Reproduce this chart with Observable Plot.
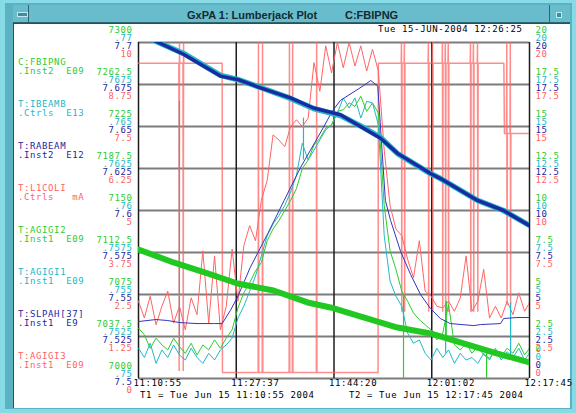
<!DOCTYPE html>
<html><head><meta charset="utf-8">
<script src="https://cdn.jsdelivr.net/npm/d3@7"></script>
<script src="https://cdn.jsdelivr.net/npm/@observablehq/plot@0.6"></script>
<style>
html,body{margin:0;padding:0;background:#86dbe7;}
#win{position:relative;width:576px;height:413px;overflow:hidden;background:#86dbe7;font-family:"DejaVu Sans Mono",monospace;}
.abs{position:absolute;white-space:pre;}
#frame{left:5px;top:3px;width:567px;height:406px;background:#5ab2c2;}
#titlebar{left:13px;top:5px;width:557px;height:17px;background:#68bccb;border-bottom:1px solid #2d6670;}
#btnL{left:17px;top:12px;width:9px;height:3px;background:#3d8d9b;border:1px solid #bfeaf0;}
#divL{left:28px;top:5px;width:1px;height:17px;background:#2d6670;}
#divR{left:549px;top:5px;width:1px;height:17px;background:#2d6670;}
#btnR{left:556px;top:12px;width:4px;height:4px;background:#3d8d9b;border:1px solid #bfeaf0;}
#panel{left:13px;top:23px;width:557px;height:385px;background:#fff;border-left:1px solid #24545c;border-top:1px solid #24545c;box-sizing:border-box;}
.title{font-family:"Liberation Sans",Arial,sans-serif;font-weight:bold;font-size:11px;color:#142a30;top:9px;line-height:12px;}
.t{font-size:9px;line-height:8.5px;letter-spacing:0.6px;}
svg{position:absolute;left:0;top:0;}
</style></head>
<body>
<div id="win">
  <div class="abs" id="frame"></div>
  <div class="abs" id="titlebar"></div>
  <div class="abs" id="btnL"></div>
  <div class="abs" id="divL"></div>
  <div class="abs" id="divR"></div>
  <div class="abs" id="btnR"></div>
  <div class="abs" id="panel"></div>
  <div class="abs title" style="left:187px">GxPA 1: Lumberjack Plot</div>
  <div class="abs title" style="left:345px">C:FBIPNG</div>
  <div class="abs t" id="date" style="left:378px;top:25px;color:#000"></div>
  <div id="legend"></div>
  <div class="abs t" id="t1" style="left:140px;top:391px;color:#000"></div>
  <div class="abs t" id="t2" style="left:349px;top:391px;color:#000"></div>
</div>
<script>
const GREEN = "#2fcb2f", CYAN = "#22b8c8", BLUE = "#2626a0", RED = "#ff6464";

// Header / footer text
const dateText = "Tue 15-JUN-2004 12:26:25";
const t1Text = "T1 = Tue Jun 15 11:10:55 2004";
const t2Text = "T2 = Tue Jun 15 12:17:45 2004";

// Legend entries
const legendNames = ["C:FBIPNG","T:IBEAMB","T:RABEAM","T:L1COLI","T:AGIGI2","T:AGIGI1","T:SLPAH[37]","T:AGIGI3"];
const legendSubs  = [".Inst2  E09",".Ctrls  E13",".Inst2  E12",".Ctrls   mA",".Inst1  E09",".Inst1  E09",".Inst1  E9",".Inst1  E09"];
const legendColors = [GREEN, CYAN, BLUE, RED, GREEN, CYAN, BLUE, RED];

// Axis tick labels (bottom to top)
const leftGreenTicks = ["7000","7037.5","7075","7112.5","7150","7187.5","7225","7262.5","7300"];
const leftCyanTicks  = [".75",".7525",".755",".7575",".76",".7625",".765",".7675",".77"];
const leftBlueTicks  = ["7.5","7.525","7.55","7.575","7.6","7.625","7.65","7.675","7.7"];
const leftRedTicks   = ["0","1.25","2.5","3.75","5","6.25","7.5","8.75","10"];
const rightTicks     = ["0","2.5","5","7.5","10","12.5","15","17.5","20"];

// Time axis (minutes after 11:10:55)
const timeMinutes = [0, 16.708, 33.417, 50.125, 66.833];
const timeLabels = ["11:10:55","11:27:37","11:44:20","12:01:02","12:17:45"];

// Scale ranges for each trace
const rangeFBIPNG = [7000, 7300];
const rangeIBEAMB = [0.75, 0.77];
const rangeRABEAM = [7.5, 7.7];
const rangeL1COLI = [0, 10];
const rangeRight  = [0, 20];

// Thick traces
const fbipng = [[0,7115.2],[5.98,7103.6],[11.8,7093.8],[16.92,7084.8],[23.08,7078.6],[28.89,7067.9],[32.82,7063.4],[38.46,7054.5],[44.27,7045.5],[49.91,7040.2],[55.55,7031.3],[61.36,7022.3],[66.83,7014.3]];
const beamMinutes = [0,3.42,7.69,14.02,16.92,20.85,25.98,29.91,34.53,38.46,41.37,44.27,49.91,51.62,57.95,62.39,66.83];
const rabeam = [7.705,7.7,7.693,7.680,7.678,7.673,7.667,7.661,7.657,7.649,7.643,7.634,7.622,7.619,7.606,7.600,7.591];
const ibeamb = [0.77054,0.77,0.76935,0.76804,0.7678,0.76732,0.76667,0.76607,0.76565,0.76494,0.76435,0.76339,0.7622,0.7619,0.7606,0.76,0.75911];

// L1COLI step trace with dropouts
const l1coli = [
[0,9.38],[6.9,9.38],[6.95,0.24],[7.0,10],[7.05,9.38],
[7.6,9.38],[7.65,0.24],[7.7,10],[7.75,9.38],
[14.3,9.38],[14.35,0.18],
[20.45,0.18],[20.5,10],[20.55,0.18],
[21.15,0.18],[21.2,10],[21.25,0.18],
[25.75,0.18],[25.8,10],[25.85,0.18],
[26.3,0.18],[26.35,10],[26.4,0.18],
[30.4,0.18],[30.45,10],[30.5,0.18],
[40.95,0.18],[41.0,9.38],
[44.9,9.38],[44.95,10],[45.0,2.0],[45.05,9.38],
[45.4,9.38],[45.45,10],[45.5,2.0],[45.55,9.38],
[49.5,9.38],[49.55,10],[49.6,2.0],[49.65,9.38],
[50.2,9.38],[50.25,10],[50.3,2.0],[50.35,9.38],
[51.9,9.38],[51.95,10],[52.0,2.0],[52.05,9.38],
[52.4,9.38],[52.45,10],[52.5,2.0],[52.55,9.38],
[52.9,9.38],[52.95,10],[53.0,2.0],[53.05,9.38],
[56.7,9.38],[56.75,10],[56.8,2.0],[56.85,9.38],
[57.2,9.38],[57.25,10],[57.3,2.0],[57.35,9.38],
[57.9,9.38],[57.95,10],[58.0,2.0],[58.05,9.38],
[62.45,9.38],[62.55,7.29],
[62.9,7.29],[62.95,10],[63.0,2.2],[63.05,7.29],
[63.5,7.29],[63.55,10],[63.6,2.2],[63.65,7.29],
[66.83,7.29]];

// Gauge traces sampled each minute
const minutes = [0,1,2,3,4,5,6,7,8,9,10,11,12,13,14,15,16,17,18,19,20,21,22,23,24,25,26,27,28,29,30,31,32,33,34,35,36,37,38,39,40,41,42,43,44,45,46,47,48,49,50,51,52,53,54,55,56,57,58,59,60,61,62,63,64,65,66,66.8];
const agigi3 = [4.6,3.6,4.9,3.2,4.3,5.2,3.3,4.3,2.9,4.8,3.8,7.6,3.3,7.3,2.9,4.3,7.7,4.6,7.9,9.1,8.2,10.6,11.8,14.5,14.2,13.8,15.0,15.4,15.0,15.5,18.8,17.1,19.8,18.2,20,18.5,20,18.6,19.8,18.3,19.6,18.3,13.6,10.3,8.9,8.5,7.1,6.0,8.2,5.2,4.9,4.3,4.2,4.6,4.0,4.8,7.3,4.0,4.6,6.5,3.6,4.3,3.6,4.6,3.8,5.1,4.0,4.5];
const agigi2 = [3.0,2.6,1.8,2.4,2.0,1.7,2.4,1.9,1.5,2.1,1.4,2.0,1.7,2.3,1.8,2.4,2.9,4.2,5.1,5.7,6.4,6.9,8.2,8.9,9.4,10.0,10.6,11.3,12.5,13.0,13.9,14.3,14.9,15.1,15.9,16.0,16.4,16.2,16.8,15.9,16.4,15.8,10.3,7.6,6.5,5.2,4.6,3.9,3.5,3.2,2.9,2.3,2.7,4.4,2.0,1.7,2.1,1.5,1.9,1.4,1.2,1.7,1.3,1.8,1.5,2.1,1.4,1.8];
const agigi1 = [1.8,1.25,2.1,0.9,1.7,1.25,2.0,1.4,1.1,1.8,1.25,0.9,1.5,1.1,1.7,2.0,2.4,3.6,4.3,5.2,6.1,7.3,8.5,9.2,9.7,10.3,11.1,12.1,14.0,13.0,13.6,14.2,14.8,15.1,15.8,16.7,16.1,16.7,15.5,16.5,16.4,15.1,8.5,5.8,4.9,4.3,2.7,2.1,2.3,1.5,1.1,1.8,1.25,1.7,0.9,1.5,1.1,1.25,0.9,1.5,1.1,1.8,1.1,1.6,1.25,1.8,1.1,1.5];
// Isolated spikes: [minute, from, to]
const agigi1Spikes = [[7.0,1.5,16.5],[28.2,13.0,15.5],[52.5,1.5,4.5],[63.6,1.2,4.5]];
const agigi2Spikes = [[45.3,5.0,0.0],[59.5,1.8,0.0],[52.6,2.5,4.6]];
const slpah = [[0,3.39],[3,3.51],[5,3.45],[7,3.33],[10,3.27],[13,3.27],[14.3,3.27],[15.7,4.05],[16.9,4.82],[19.1,6.61],[22.1,8.63],[24.9,10.6],[27.7,12.56],[31.6,14.94],[33.1,15.9],[34.5,16.55],[38.5,17.44],[39.7,17.74],[40.9,17.4],[42.2,10.6],[43.1,9.4],[44.8,7.56],[46.5,6.2],[48.2,5.0],[49.9,4.17],[51.6,3.57],[53.3,3.27],[57.3,3.15],[58.5,3.21],[61.9,3.27],[62.4,3.57],[64.7,3.63],[66.83,3.63]];

// ---- build page text ----
document.getElementById("date").textContent = dateText;
document.getElementById("t1").textContent = t1Text;
document.getElementById("t2").textContent = t2Text;
const leg = document.getElementById("legend");
legendNames.forEach((n, i) => {
  const d = document.createElement("div");
  d.className = "abs t";
  d.style.left = "18px";
  d.style.top = (58 + 42 * i) + "px";
  d.style.color = legendColors[i];
  d.textContent = n + "\n" + legendSubs[i];
  leg.appendChild(d);
});

// ---- chart ----
const norm = (r) => (v) => (v - r[0]) / (r[1] - r[0]);
const yTicks = [0, 0.125, 0.25, 0.375, 0.5, 0.625, 0.75, 0.875, 1];
const yTicksUpper = yTicks.slice(1);
const lab = (arr) => (d) => arr[Math.round(d * 8)];
const zip = (ts, vs) => ts.map((t, i) => [t, vs[i]]);

const nR = norm(rangeRight);
const axisOpts = {tickSize: 0, tickPadding: 6, label: null};
const colors4 = [GREEN, CYAN, BLUE, RED];
const dys = [-12.5, -4.5, 3.5, 12];
const leftArrays = [leftGreenTicks, leftCyanTicks, leftBlueTicks, leftRedTicks];

const leftAxes = colors4.map((c, i) => Plot.axisY({...axisOpts, ticks: yTicks, anchor: "left", dy: dys[i], fill: c, tickFormat: lab(leftArrays[i])}));
const rightAxes = colors4.map((c, i) => Plot.axisY({...axisOpts, ticks: yTicksUpper, anchor: "right", dy: dys[i], fill: c, tickFormat: lab(rightTicks)}));
const rightZero = colors4.map((c, i) => Plot.axisY({...axisOpts, ticks: [0], anchor: "right", dy: dys[i] - 17, fill: c, tickFormat: lab(rightTicks)}));

const chart = Plot.plot({
  width: 576, height: 413,
  marginLeft: 138, marginRight: 47, marginTop: 42, marginBottom: 35,
  style: {background: "transparent", fontFamily: "DejaVu Sans Mono, monospace", fontSize: "9px", letterSpacing: "0.6px", overflow: "visible"},
  x: {domain: [0, 66.833]},
  y: {domain: [0, 1]},
  marks: [
    Plot.ruleY(yTicks, {stroke: "#7c7c7c", strokeWidth: 2}),
    Plot.ruleX(timeMinutes, {stroke: "#1c1c1c", strokeWidth: 1.5}),
    Plot.line(l1coli, {x: d => d[0], y: d => norm(rangeL1COLI)(d[1]), stroke: RED, strokeWidth: 1.5, strokeOpacity: 0.75, clip: true}),
    Plot.line(zip(minutes, agigi3), {x: d => d[0], y: d => nR(d[1]), stroke: RED, strokeWidth: 1, clip: true}),
    Plot.line(zip(minutes, agigi1), {x: d => d[0], y: d => nR(d[1]), stroke: CYAN, strokeWidth: 1, clip: true}),
    Plot.ruleX(agigi1Spikes, {x: d => d[0], y1: d => nR(d[1]), y2: d => nR(d[2]), stroke: CYAN, strokeWidth: 1.2, clip: true}),
    Plot.line(zip(minutes, agigi2), {x: d => d[0], y: d => nR(d[1]), stroke: GREEN, strokeWidth: 1, clip: true}),
    Plot.ruleX(agigi2Spikes, {x: d => d[0], y1: d => nR(d[1]), y2: d => nR(d[2]), stroke: GREEN, strokeWidth: 1.2, clip: true}),
    Plot.line(slpah, {x: d => d[0], y: d => nR(d[1]), stroke: "#3434c0", strokeWidth: 1, clip: true}),
    Plot.line(zip(beamMinutes, ibeamb), {x: d => d[0], y: d => norm(rangeIBEAMB)(d[1]), stroke: CYAN, strokeWidth: 5.5, clip: true}),
    Plot.line(zip(beamMinutes, rabeam), {x: d => d[0], y: d => norm(rangeRABEAM)(d[1]), stroke: "#1a2aa0", strokeWidth: 3.5, clip: true}),
    Plot.line(fbipng, {x: d => d[0], y: d => norm(rangeFBIPNG)(d[1]), stroke: "#22c822", strokeWidth: 6, clip: true}),
    ...leftAxes,
    ...rightAxes,
    ...rightZero,
    Plot.axisX({ticks: timeMinutes, tickSize: 0, tickPadding: 1, textAnchor: "start", dx: -5, label: null, fill: "#000",
      tickFormat: d => timeLabels[timeMinutes.indexOf(d)]})
  ]
});
document.getElementById("win").appendChild(chart);
</script>
</body></html>
